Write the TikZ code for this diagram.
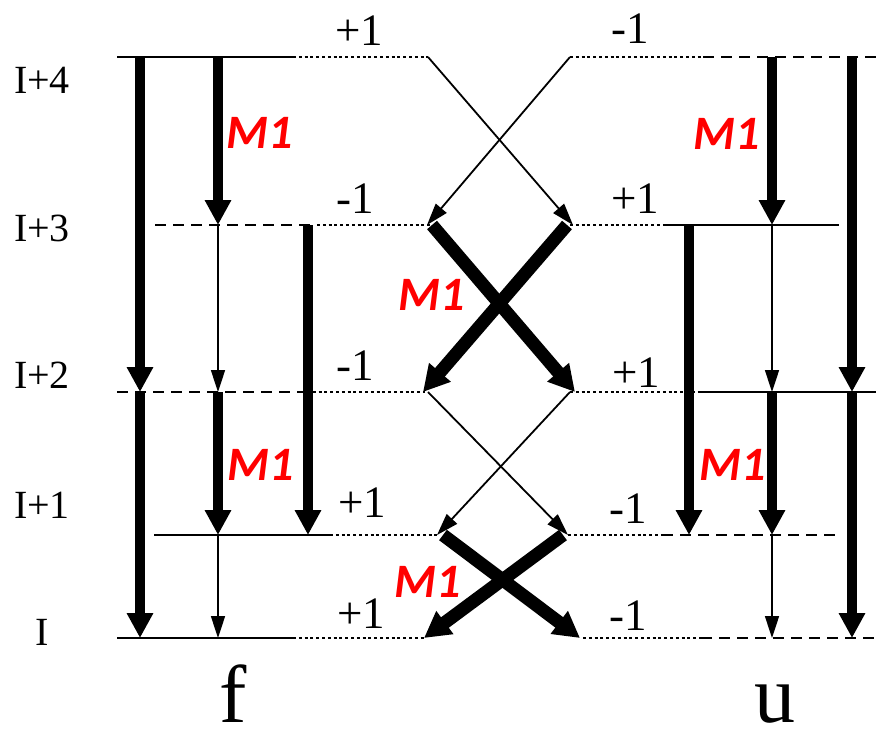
\documentclass[tikz,border=0pt]{standalone}
\usepackage{fontspec}
\setmainfont{Liberation Serif}
\newfontfamily\mfont{Carlito}
\usetikzlibrary{arrows.meta}
\begin{document}
\begin{tikzpicture}[x=1pt,y=-1pt,
  lev/.style={line width=2.2pt},
  levdash/.style={lev, dash pattern=on 11pt off 7pt},
  levdot/.style={line width=2.6pt, dash pattern=on 3pt off 2.8pt},
  thk/.style={line width=10pt, -{Triangle[width=25pt,length=25pt]}},
  thn/.style={line width=1.6pt, -{Triangle[width=14pt,length=22pt]}},
  thkd/.style={line width=13pt, -{Triangle[width=27pt,length=26pt]}},
  thnd/.style={line width=1.8pt, -{Triangle[width=14pt,length=22pt]}},
  pm/.style={font=\fontsize{45}{45}\selectfont, anchor=base, inner sep=0pt},
  lvl/.style={font=\fontsize{40}{40}\selectfont, inner sep=0pt},
  mone/.style={font=\mfont\bfseries\itshape\fontsize{48}{48}\selectfont, text=red, inner sep=0pt},
  fu/.style={font=\fontsize{82}{82}\selectfont, anchor=base, inner sep=0pt}]
\useasboundingbox (0,0) rectangle (876,740);

% column coordinates
\foreach \n/\x in {a/140,b/218,c/308,d/689,e/772,g/852}
  \foreach \l/\y in {0/638,1/535,2/392,3/225,4/57}
    \coordinate (\n\l) at (\x,\y);

% level line break points
\coordinate (L4s) at (117,57);  \coordinate (L4m) at (293,57);  \coordinate (L4l) at (428,57);
\coordinate (L4r) at (570,57);  \coordinate (L4n) at (703,57);  \coordinate (L4e) at (876,57);
\coordinate (L3s) at (155,225); \coordinate (L3m) at (317,225); \coordinate (L3l) at (430,225);
\coordinate (L3r) at (570,225); \coordinate (L3n) at (663,225); \coordinate (L3e) at (839,225);
\coordinate (L2s) at (117,392); \coordinate (L2m) at (307,392); \coordinate (L2l) at (425,392);
\coordinate (L2r) at (570,392); \coordinate (L2n) at (701,392); \coordinate (L2e) at (876,392);
\coordinate (L1s) at (154,535); \coordinate (L1m) at (330,535); \coordinate (L1l) at (437,535);
\coordinate (L1r) at (568,535); \coordinate (L1n) at (662,535); \coordinate (L1e) at (840,535);
\coordinate (L0s) at (117,638); \coordinate (L0m) at (293,638); \coordinate (L0l) at (424,638);
\coordinate (L0r) at (583,638); \coordinate (L0n) at (701,638); \coordinate (L0e) at (876,638);

% level lines
\draw[lev] (L4s) -- (L4m); \draw[levdot] (L4m) -- (L4l); \draw[levdot] (L4r) -- (L4n); \draw[levdash] (L4n) -- (L4e);
\draw[levdash] (L3s) -- (L3m); \draw[levdot] (L3m) -- (L3l); \draw[levdot] (L3r) -- (L3n); \draw[lev] (L3n) -- (L3e);
\draw[levdash] (L2s) -- (L2m); \draw[levdot] (L2m) -- (L2l); \draw[levdot] (L2r) -- (L2n); \draw[lev] (L2n) -- (L2e);
\draw[lev] (L1s) -- (L1m); \draw[levdot] (L1m) -- (L1l); \draw[levdot] (L1r) -- (L1n); \draw[levdash] (L1n) -- (L1e);
\draw[lev] (L0s) -- (L0m); \draw[levdot] (L0m) -- (L0l); \draw[levdot] (L0r) -- (L0n); \draw[levdash] (L0n) -- (L0e);

% vertical transitions, f side
\draw[thk] (a4) -- (a2); \draw[thk] (a2) -- (a0);
\draw[thk] (b4) -- (b3); \draw[thn] (b3) -- (b2); \draw[thk] (b2) -- (b1); \draw[thn] (b1) -- (b0);
\draw[thk] (c3) -- (c1);
% vertical transitions, u side
\draw[thk] (d3) -- (d1);
\draw[thk] (e4) -- (e3); \draw[thn] (e3) -- (e2); \draw[thk] (e2) -- (e1); \draw[thn] (e1) -- (e0);
\draw[thk] (g4) -- (g2); \draw[thk] (g2) -- (g0);

% crossing transitions
\coordinate (x4a) at (428,57);  \coordinate (x4b) at (570,57);
\coordinate (x3a) at (427,225); \coordinate (x3b) at (573,225);
\coordinate (y3a) at (432,225); \coordinate (y3b) at (567,225);
\coordinate (y2a) at (423,392); \coordinate (y2b) at (575,392);
\coordinate (z2a) at (428,392); \coordinate (z2b) at (570,392);
\coordinate (z1a) at (437,535); \coordinate (z1b) at (568,535);
\coordinate (w1a) at (443,535); \coordinate (w1b) at (563,535);
\coordinate (w0a) at (424,638); \coordinate (w0b) at (580,638);

\draw[thnd] (x4a) -- (x3b); \draw[thnd] (x4b) -- (x3a);
\draw[thkd] (y3a) -- (y2b); \draw[thkd] (y3b) -- (y2a);
\draw[thnd] (z2a) -- (z1b); \draw[thnd] (z2b) -- (z1a);
\draw[thkd] (w1a) -- (w0b); \draw[thkd] (w1b) -- (w0a);

% m-labels
\node[pm] (p4l) at (359,45) {+1};
\node[pm] (p4r) at (630,43) {-1};
\node[pm] (p3l) at (355,213) {-1};
\node[pm] (p3r) at (635,213) {+1};
\node[pm] (p2l) at (355,380) {-1};
\node[pm] (p2r) at (636,387) {+1};
\node[pm] (p1l) at (362,517) {+1};
\node[pm] (p1r) at (628,523) {-1};
\node[pm] (p0l) at (361,628) {+1};
\node[pm] (p0r) at (628,630) {-1};

% level names
\node[lvl] (n4) at (42,80) {I+4};
\node[lvl] (n3) at (42,228) {I+3};
\node[lvl] (n2) at (42,375) {I+2};
\node[lvl] (n1) at (42,505) {I+1};
\node[lvl] (n0) at (42,632) {I};

% M1 labels
\node[mone] (m1) at (260,133) {M1};
\node[mone] (m2) at (727,134) {M1};
\node[mone] (m3) at (432,295) {M1};
\node[mone] (m4) at (261,465) {M1};
\node[mone] (m5) at (733,465) {M1};
\node[mone] (m6) at (428,582) {M1};

% band names
\node[fu] (f) at (233,722) {f};
\node[fu] (u) at (775,722) {u};
\end{tikzpicture}
\end{document}
